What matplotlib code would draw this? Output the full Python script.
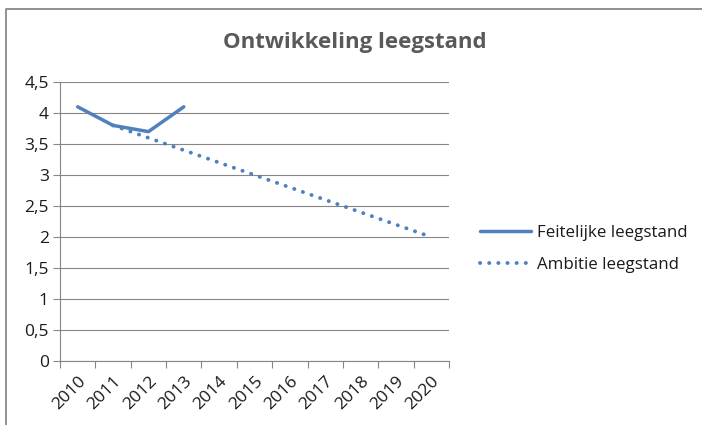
import matplotlib
matplotlib.use("Agg")
import matplotlib.pyplot as plt
import numpy as np
from matplotlib.lines import Line2D

years = ["2010", "2011", "2012", "2013", "2014", "2015", "2016", "2017", "2018", "2019", "2020"]
feitelijk = [4.1, 3.8, 3.7, 4.1]
ambitie = [3.8, 3.6, 3.4, 3.2, 3.0, 2.8, 2.6, 2.4, 2.2, 2.0]
yticks = [0, 0.5, 1, 1.5, 2, 2.5, 3, 3.5, 4, 4.5]
ytick_labels = ["0", "0,5", "1", "1,5", "2", "2,5", "3", "3,5", "4", "4,5"]

blue = "#4F81BD"
grid = "#868686"
plt.rcParams["font.family"] = ["Open Sans", "DejaVu Sans"]

fig = plt.figure(figsize=(7.02, 4.25), dpi=100)
# chart frame (only top and left edges visible in the crop)
fig.lines.append(Line2D([5.5 / 702, 5.5 / 702, 1.0], [0.0, 1 - 8.5 / 425, 1 - 8.5 / 425],
                        transform=fig.transFigure, color="#888888", linewidth=1.3))
ax = fig.add_axes([0.0855, 0.1506, 0.5541, 0.6564])

x = np.arange(len(years))
ax.plot(x[:len(feitelijk)], feitelijk, color=blue, linewidth=2.5,
        solid_capstyle="round", solid_joinstyle="round", label="Feitelijke leegstand", zorder=3)
ax.plot(x[1:1 + len(ambitie)], ambitie, color=blue, linewidth=2.8,
        linestyle=(0, (0.05, 2.3)), dash_capstyle="round", label="Ambitie leegstand", zorder=2)

ax.set_xlim(-0.5, len(years) - 0.5)
ax.set_ylim(0, 4.5)
ax.set_yticks(yticks)
ax.set_yticklabels(ytick_labels)
ax.yaxis.grid(True, color=grid, linewidth=0.8)
ax.set_axisbelow(True)

ax.set_xticks(x)
ax.set_xticklabels(years, rotation=45, ha="right", va="top", rotation_mode="anchor")
ax.set_xticks(np.arange(len(years) + 1) - 0.5, minor=True)
ax.tick_params(axis="x", which="major", length=0, pad=9, labelsize=12.5, labelcolor="#1a1a1a")
ax.tick_params(axis="x", which="minor", length=5, color=grid, width=0.8)
ax.tick_params(axis="y", length=5, color=grid, width=0.8, labelsize=12.5, labelcolor="#1a1a1a", pad=3)

for side in ["top", "right"]:
    ax.spines[side].set_visible(False)
for side in ["left", "bottom"]:
    ax.spines[side].set_color(grid)
    ax.spines[side].set_linewidth(0.8)

fig.text(0.505, 0.9, "Ontwikkeling leegstand", ha="center", va="center",
         fontsize=16, fontweight="bold", color="#595959")

fig.legend(loc="center left", bbox_to_anchor=(0.662, 0.415), frameon=False,
           fontsize=12.2, handlelength=3.0, handletextpad=0.35, labelspacing=0.95,
           labelcolor="#1a1a1a")

fig.savefig("out.png", dpi=100)
